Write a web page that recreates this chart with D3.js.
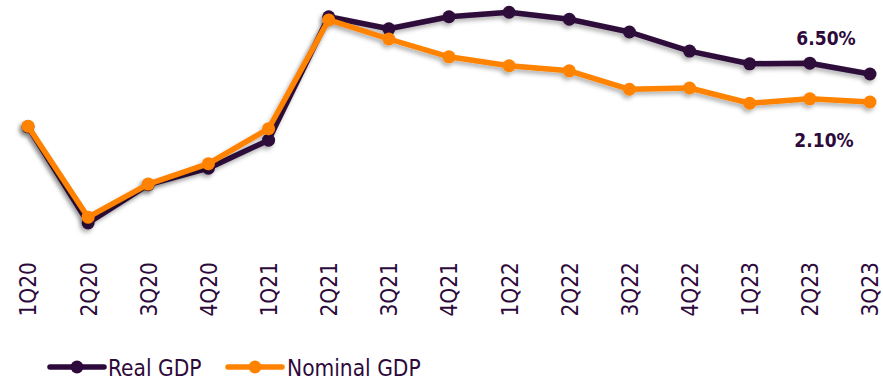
<!DOCTYPE html>
<html>
<head>
<meta charset="utf-8">
<script src="https://cdn.jsdelivr.net/npm/d3@7"></script>
<style>
  html, body { margin: 0; padding: 0; background: #fff; }
  svg { display: block; }
  .lbl { font-family: 'DejaVu Sans Condensed', 'DejaVu Sans', sans-serif; font-stretch: condensed; }
</style>
</head>
<body>
<svg id="chart" width="883" height="382"></svg>
<script>
// Quarterly GDP growth, year over year (%)
const quarters = ["1Q20","2Q20","3Q20","4Q20","1Q21","2Q21","3Q21","4Q21",
                  "1Q22","2Q22","3Q22","4Q22","1Q23","2Q23","3Q23"];
const realGdp    = [-1.8, -16.9, -10.9, -8.3, -3.9, 15.5, 13.6, 15.5, 16.2, 15.1, 13.1, 10.1, 8.1, 8.2, 6.5];
const nominalGdp = [-1.7, -16.0, -10.8, -7.6, -2.1, 15.0, 12.0, 9.2, 7.8, 7.0, 4.1, 4.3, 1.9, 2.6, 2.1];
const seriesNames = ["Real GDP", "Nominal GDP"];
const endLabels = ["6.50%", "2.10%"];

const PURPLE = "#2d0a3b";
const ORANGE = "#ff8200";
const TEXT = "#2d0a3b";

const svg = d3.select("#chart");

const x = d3.scalePoint().domain(quarters).range([28, 870]).padding(0);
const y = d3.scaleLinear().domain([-20, 20]).range([242.6, -11.9]);

// soft drop shadow under the lines
const defs = svg.append("defs");
const f = defs.append("filter").attr("id", "shadow")
  .attr("x", "-10%").attr("y", "-20%").attr("width", "120%").attr("height", "140%");
f.append("feDropShadow").attr("dx", -2).attr("dy", 3).attr("stdDeviation", 2)
  .attr("flood-color", "#000").attr("flood-opacity", 0.3);

const series = [
  { name: seriesNames[0], values: realGdp, color: PURPLE },
  { name: seriesNames[1], values: nominalGdp, color: ORANGE }
];

const line = d3.line()
  .x((d, i) => x(quarters[i]))
  .y(d => y(d));

series.forEach(s => {
  const g = svg.append("g").attr("filter", "url(#shadow)");
  g.append("path")
    .datum(s.values)
    .attr("d", line)
    .attr("fill", "none")
    .attr("stroke", s.color)
    .attr("stroke-width", 5.5)
    .attr("stroke-linejoin", "round");
  g.selectAll("circle")
    .data(s.values)
    .join("circle")
    .attr("cx", (d, i) => x(quarters[i]))
    .attr("cy", d => y(d))
    .attr("r", 6.5)
    .attr("fill", s.color);
});

// value callouts for the latest quarter
svg.append("text").attr("class", "lbl")
  .attr("x", 826).attr("y", 45)
  .attr("text-anchor", "middle")
  .attr("font-size", 19).attr("font-weight", "bold")
  .attr("fill", TEXT).text(endLabels[0]);
svg.append("text").attr("class", "lbl")
  .attr("x", 824).attr("y", 147)
  .attr("text-anchor", "middle")
  .attr("font-size", 19).attr("font-weight", "bold")
  .attr("fill", TEXT).text(endLabels[1]);

// category axis with vertical labels
const xAxis = svg.append("g")
  .attr("transform", "translate(0,258)")
  .call(d3.axisBottom(x).tickSize(0).tickPadding(0));
xAxis.select(".domain").remove();
xAxis.selectAll("text")
  .attr("class", "lbl")
  .attr("font-size", 22.5)
  .attr("fill", TEXT)
  .attr("transform", "rotate(-90)")
  .attr("text-anchor", "end")
  .attr("x", -4)
  .attr("y", 0)
  .attr("dy", "0.35em");
xAxis.attr("font-family", null);

// legend
const legend = svg.append("g");
const legendItems = [
  { name: seriesNames[0], color: PURPLE, x0: 50, x1: 104, tx: 108 },
  { name: seriesNames[1], color: ORANGE, x0: 228, x1: 282, tx: 287 }
];
legendItems.forEach(it => {
  legend.append("line")
    .attr("x1", it.x0).attr("x2", it.x1)
    .attr("y1", 367).attr("y2", 367)
    .attr("stroke", it.color).attr("stroke-width", 5.5)
    .attr("stroke-linecap", "round");
  legend.append("circle")
    .attr("cx", (it.x0 + it.x1) / 2).attr("cy", 367)
    .attr("r", 6.5).attr("fill", it.color);
  legend.append("text").attr("class", "lbl")
    .attr("x", it.tx).attr("y", 375.5)
    .attr("font-size", 22.5)
    .attr("fill", TEXT)
    .text(it.name);
});
</script>
</body>
</html>
